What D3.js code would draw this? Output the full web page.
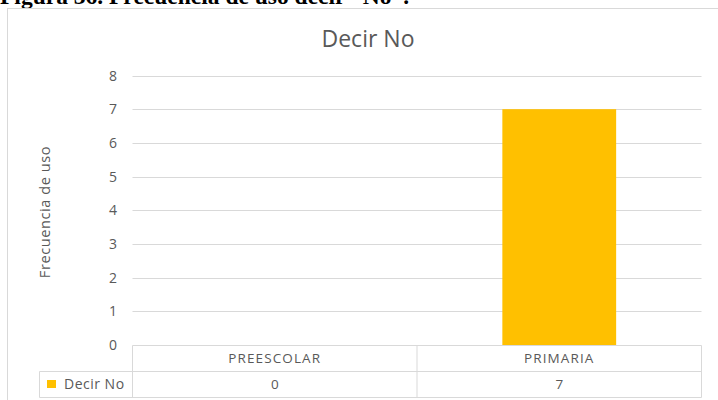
<!DOCTYPE html>
<html>
<head>
<meta charset="utf-8">
<script src="https://d3js.org/d3.v7.min.js"></script>
<style>
  body { margin: 0; background: #fff; }
  svg { display: block; }
</style>
</head>
<body>
<script>
// Chart data
const categories = ["PREESCOLAR", "PRIMARIA"];
const seriesName = "Decir No";
const values = [0, 7];
const yTicks = [0, 1, 2, 3, 4, 5, 6, 7, 8];

const width = 718, height = 400;
const grey = "#595959", line = "#d9d9d9", gold = "#ffc000";
const font = "'Open Sans', sans-serif";

let svg = d3.select("body").append("svg")
    .attr("width", width)
    .attr("height", height);

// Caption above the chart (cut off at the top of the picture)
let cap = svg.append("text")
    .attr("x", 0)
    .attr("y", 4)
    .style("font-family", "'Liberation Serif', 'Times New Roman', serif")
    .style("font-size", "23.5px")
    .style("font-weight", "bold")
    .style("fill", "#000");
cap.append("tspan").text("Figura 36. ");
cap.append("tspan").text("Frecuencia de uso decir \u201CNo\u201D.");

// Chart frame
svg.append("rect")
    .attr("x", 7.5).attr("y", 8.5)
    .attr("width", 720).attr("height", 400)
    .attr("fill", "none")
    .attr("stroke", line);

// Title
svg.append("text")
    .attr("x", 368).attr("y", 47)
    .attr("text-anchor", "middle")
    .style("font-family", font)
    .style("font-size", "23px")
    .style("fill", grey)
    .text("Decir No");

// Scales
let x = d3.scaleBand().domain(categories).range([132.5, 701.5]).padding(0);
let y = d3.scaleLinear().domain([0, 8]).range([345, 75.5]);

// Gridlines
svg.append("g").selectAll("line")
    .data(yTicks.filter(d => d > 0))
    .join("line")
    .attr("x1", x.range()[0]).attr("x2", x.range()[1])
    .attr("y1", d => Math.round(y(d)) + 0.5)
    .attr("y2", d => Math.round(y(d)) + 0.5)
    .attr("stroke", line);

// Y tick labels
svg.append("g").selectAll("text")
    .data(yTicks)
    .join("text")
    .attr("x", 113)
    .attr("y", d => y(d) + 5)
    .attr("text-anchor", "middle")
    .style("font-family", font)
    .style("font-size", "14px")
    .style("fill", grey)
    .text(d => d);

// Y axis title
svg.append("text")
    .attr("transform", "translate(50,212) rotate(-90)")
    .attr("text-anchor", "middle")
    .style("font-family", font)
    .style("font-size", "14.5px")
    .style("letter-spacing", "0.6px")
    .style("fill", grey)
    .text("Frecuencia de uso");

// Bars
const barFrac = 0.4;
svg.append("g").selectAll("rect")
    .data(categories.map((c, i) => ({ c: c, v: values[i] })))
    .join("rect")
    .attr("x", d => x(d.c) + x.bandwidth() * (1 - barFrac) / 2)
    .attr("width", x.bandwidth() * barFrac)
    .attr("y", d => y(d.v))
    .attr("height", d => y(0) - y(d.v))
    .attr("fill", gold);

// Data table below the plot
const rowTop = 345.5, rowMid = 371.5, rowBot = 397.5, legLeft = 39.5;
let tbl = svg.append("g")
    .attr("fill", "none")
    .attr("stroke", line);
// horizontal lines
tbl.append("line").attr("x1", x.range()[0]).attr("x2", x.range()[1]).attr("y1", rowTop).attr("y2", rowTop);
tbl.append("line").attr("x1", legLeft).attr("x2", x.range()[1]).attr("y1", rowMid).attr("y2", rowMid);
tbl.append("line").attr("x1", legLeft).attr("x2", x.range()[1]).attr("y1", rowBot).attr("y2", rowBot);
// vertical lines
tbl.append("line").attr("x1", legLeft).attr("x2", legLeft).attr("y1", rowMid).attr("y2", rowBot);
tbl.selectAll("line.v")
    .data(categories.map(c => x(c)).concat([x.range()[1]]))
    .join("line")
    .attr("class", "v")
    .attr("x1", d => d).attr("x2", d => d)
    .attr("y1", rowTop).attr("y2", rowBot);

// Category labels
svg.append("g").selectAll("text")
    .data(categories)
    .join("text")
    .attr("x", d => x(d) + x.bandwidth() / 2)
    .attr("y", 363)
    .attr("text-anchor", "middle")
    .style("font-family", font)
    .style("font-size", "13.5px")
    .style("letter-spacing", "1.1px")
    .style("fill", grey)
    .text(d => d);

// Values row
svg.append("g").selectAll("text")
    .data(categories.map((c, i) => ({ c: c, v: values[i] })))
    .join("text")
    .attr("x", d => x(d.c) + x.bandwidth() / 2)
    .attr("y", 389)
    .attr("text-anchor", "middle")
    .style("font-family", font)
    .style("font-size", "13.5px")
    .style("fill", grey)
    .text(d => d.v);

// Legend key in the table
svg.append("rect")
    .attr("x", 47).attr("y", 380)
    .attr("width", 9).attr("height", 8)
    .attr("fill", gold);
svg.append("text")
    .attr("x", 64).attr("y", 389)
    .style("font-family", font)
    .style("font-size", "14px")
    .style("letter-spacing", "0.5px")
    .style("fill", grey)
    .text(seriesName);
</script>
</body>
</html>
